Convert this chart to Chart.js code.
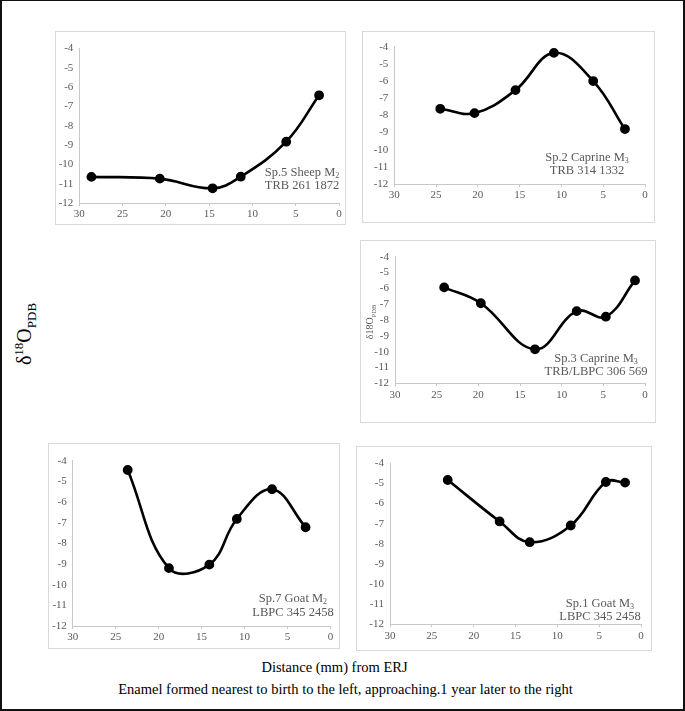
<!DOCTYPE html>
<html>
<head>
<meta charset="utf-8">
<script src="https://cdn.jsdelivr.net/npm/chart.js@4.4.0/dist/chart.umd.min.js"></script>
<style>
  body { margin: 0; background: #fff; }
  #page { position: relative; width: 685px; height: 711px; overflow: hidden; font-family: "Liberation Serif", "Times New Roman", serif; }
  #frame { position: absolute; left: 0; top: 0; width: 685px; height: 711px; box-sizing: border-box;
           border: 2px solid #111; border-top-width: 1px; pointer-events: none; }
  .panel { position: absolute; box-sizing: border-box; border: 1px solid #d9d9d9; background: #fff; }
  .panel canvas { position: absolute; left: -1px; top: -1px; }
  .note { position: absolute; color: #595959; font-size: 12.5px; line-height: 13px; text-align: center;
          white-space: nowrap; transform: translateX(-50%); }
  .note sub { font-size: 8px; vertical-align: -2px; line-height: 0; }
  .ytitle { position: absolute; white-space: nowrap; transform: translate(-50%, -50%) rotate(-90deg); color: #000; }
  .ytitle sub, .ytitle sup { line-height: 0; }
  .xtitle { position: absolute; left: 0; width: 685px; text-align: center; font-size: 14.5px; color: #000; white-space: nowrap; }
</style>
</head>
<body>
<div id="page">
  <div class="panel" id="p5"><canvas id="c5"></canvas></div>
  <div class="panel" id="p2"><canvas id="c2"></canvas></div>
  <div class="panel" id="p3"><canvas id="c3"></canvas></div>
  <div class="panel" id="p7"><canvas id="c7"></canvas></div>
  <div class="panel" id="p1"><canvas id="c1"></canvas></div>

  <div class="note" style="left:302px; top:166px;">Sp.5 Sheep M<sub>2</sub><br>TRB 261 1872</div>
  <div class="note" style="left:587px; top:151px;">Sp.2 Caprine M<sub>3</sub><br>TRB 314 1332</div>
  <div class="note" style="left:596px; top:352px;">Sp.3 Caprine M<sub>3</sub><br>TRB/LBPC 306 569</div>
  <div class="note" style="left:293px; top:591px; line-height:14px;">Sp.7 Goat M<sub>2</sub><br>LBPC 345 2458</div>
  <div class="note" style="left:600px; top:597px;">Sp.1 Goat M<sub>3</sub><br>LBPC 345 2458</div>

  <div class="ytitle" style="left:369px; top:322px; font-size:10px; color:#595959;">δ18O<sub style="font-size:6.5px;">PDB</sub></div>
  <div class="ytitle" style="left:24px; top:334px; font-size:20px;">δ<sup style="font-size:13px;">18</sup>O<sub style="font-size:13px;">PDB</sub></div>

  <div class="xtitle" style="top:659px; transform:translateX(-8px);">Distance (mm) from ERJ</div>
  <div class="xtitle" style="top:681px; transform:translateX(3px);">Enamel formed nearest to birth to the left, approaching.1 year later to the right</div>
  <div id="frame"></div>
</div>

<script>
// distance from ERJ (mm) and d18O values
const sp5Mm  = [28.6, 20.7, 14.6, 11.35, 6.1, 2.3];
const sp5Val = [-10.65, -10.74, -11.24, -10.64, -8.83, -6.43];

const sp2Mm  = [24.5, 20.4, 15.5, 10.9, 6.2, 2.4];
const sp2Val = [-7.62, -7.87, -6.53, -4.36, -6.0, -8.8];

const sp3Mm  = [24.1, 19.7, 13.2, 8.2, 4.7, 1.2];
const sp3Val = [-5.94, -6.94, -9.85, -7.44, -7.79, -5.5];

const sp7Mm  = [23.6, 18.8, 14.1, 10.9, 6.8, 2.9];
const sp7Val = [-4.45, -9.2, -9.03, -6.82, -5.38, -7.22];

const sp1Mm  = [23.1, 16.9, 13.3, 8.4, 4.2, 1.9];
const sp1Val = [-4.83, -6.89, -7.92, -7.09, -4.93, -4.96];

// axis ranges / ticks
const xMin = 0, xMax = 30, xStep = 5;
const yMin = -12, yMax = -4, yStep = 1;

const GREY_TEXT = "#595959";
const GREY_LINE = "#c8c8c8";
const FONT = "'Liberation Serif', 'Times New Roman', serif";

/* --------- PANEL --------- */
// box: panel rectangle on the page; ax: where the plot area sits on the page
function makePanel(id, box, ax, mm, vals) {
  const panel = document.getElementById("p" + id);
  panel.style.left = box.l + "px";
  panel.style.top = box.t + "px";
  panel.style.width = (box.r - box.l) + "px";
  panel.style.height = (box.b - box.t) + "px";

  const canvas = document.getElementById("c" + id);
  canvas.width = box.r - box.l;
  canvas.height = box.b - box.t;
  canvas.style.width = canvas.width + "px";
  canvas.style.height = canvas.height + "px";

  return new Chart(canvas, {
    type: "line",
    data: {
      datasets: [{
        data: mm.map((x, i) => ({ x: x, y: vals[i] })),
        borderColor: "#000",
        backgroundColor: "#000",
        borderWidth: 2.6,
        pointRadius: 3.6,
        pointBackgroundColor: "#000",
        pointBorderColor: "#000",
        tension: 0.4,
        fill: false
      }]
    },
    options: {
      responsive: false,
      animation: false,
      layout: { padding: { left: 0, top: ax.top - box.t, right: box.r - ax.right, bottom: 0 } },
      plugins: { legend: { display: false }, tooltip: { enabled: false } },
      scales: {
        x: {
          type: "linear",
          reverse: true,
          min: xMin, max: xMax,
          afterFit: s => { s.height = box.b - ax.base; },
          grid: { display: true, drawOnChartArea: false, drawTicks: true, tickLength: 3, color: GREY_LINE },
          border: { display: true, color: GREY_LINE, width: 1 },
          ticks: { stepSize: xStep, color: GREY_TEXT, padding: 2, maxRotation: 0, autoSkip: false,
                   font: { family: FONT, size: 11 } }
        },
        y: {
          min: yMin, max: yMax,
          afterFit: s => { s.width = ax.left - box.l; },
          grid: { display: false, drawTicks: false },
          border: { display: true, color: GREY_LINE, width: 1 },
          ticks: { stepSize: yStep, color: GREY_TEXT, padding: 6, autoSkip: false,
                   font: { family: FONT, size: 11 } }
        }
      }
    }
  });
}

makePanel(5, { l: 55, t: 31, r: 346, b: 225 }, { left: 79.3, right: 339, top: 48.3, base: 203 }, sp5Mm, sp5Val);
makePanel(2, { l: 362, t: 31, r: 655, b: 223 }, { left: 394.3, right: 645, top: 46.7, base: 184 }, sp2Mm, sp2Val);
makePanel(3, { l: 360, t: 240, r: 656, b: 423 }, { left: 395, right: 645, top: 256.7, base: 383.3 }, sp3Mm, sp3Val);
makePanel(7, { l: 48, t: 443, r: 340, b: 649 }, { left: 72.7, right: 330.5, top: 460.7, base: 626 }, sp7Mm, sp7Val);
makePanel(1, { l: 356, t: 446, r: 652, b: 651 }, { left: 390, right: 641, top: 463.3, base: 624.3 }, sp1Mm, sp1Val);
</script>
</body>
</html>
